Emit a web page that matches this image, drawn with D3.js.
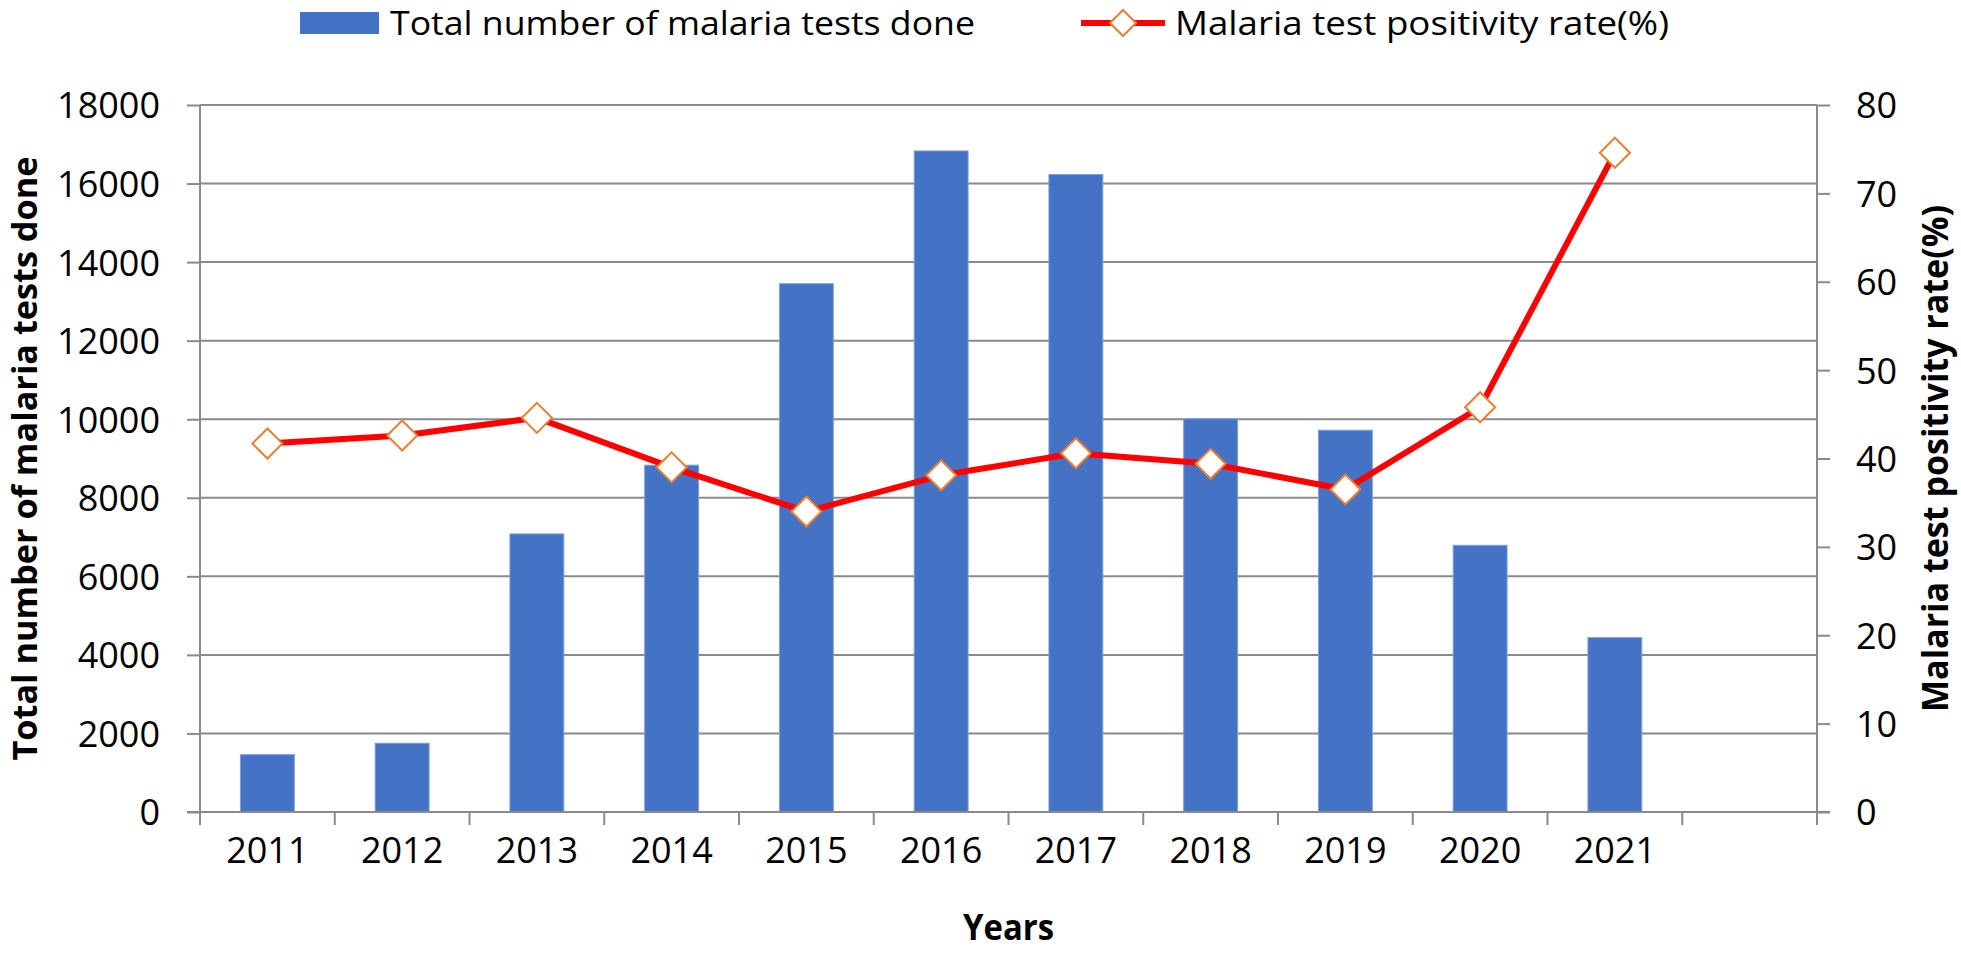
<!DOCTYPE html>
<html>
<head>
<meta charset="utf-8">
<script src="https://cdn.jsdelivr.net/npm/d3@7"></script>
<style>
  html, body { margin: 0; padding: 0; background: #fff; }
  svg { display: block; }
  text { font-family: "Open Sans", "Liberation Sans", sans-serif; fill: #000; }
</style>
</head>
<body>
<svg id="chart" width="1961" height="953"></svg>
<script>
// ---- data ----
const categories = ["2011","2012","2013","2014","2015","2016","2017","2018","2019","2020","2021",""];
const years = ["2011","2012","2013","2014","2015","2016","2017","2018","2019","2020","2021"];
const testsDone = [1460, 1750, 7080, 8830, 13450, 16830, 16230, 10010, 9720, 6790, 4440];
const positivityRate = [41.7, 42.6, 44.6, 39.0, 34.0, 38.1, 40.6, 39.4, 36.5, 45.8, 74.6];
const leftTicks = [0, 2000, 4000, 6000, 8000, 10000, 12000, 14000, 16000, 18000];
const rightTicks = [0, 10, 20, 30, 40, 50, 60, 70, 80];
const seriesNames = ["Total number of malaria tests done", "Malaria test positivity rate(%)"];
const axisTitles = { left: "Total number of malaria tests done", right: "Malaria test positivity rate(%)", bottom: "Years" };

// ---- layout ----
const plot = { left: 200, right: 1817, top: 105, bottom: 812 };
const gridColor = "#8a8a8a";
const barColor = "#4472C4";
const lineColor = "#FF0000";
const markerStroke = "#ED7D31";

const svg = d3.select("#chart");

const x = d3.scaleBand().domain(categories).range([plot.left, plot.right])
  .paddingInner(0.6).paddingOuter(0.3);
const step = x.step();
const yL = d3.scaleLinear().domain([0, 18000]).range([plot.bottom, plot.top]);
const yR = d3.scaleLinear().domain([0, 80]).range([plot.bottom, plot.top]);

// gridlines
svg.append("g").selectAll("line").data(leftTicks.filter(d => d > 0)).join("line")
  .attr("x1", plot.left).attr("x2", plot.right)
  .attr("y1", d => yL(d)).attr("y2", d => yL(d))
  .attr("stroke", gridColor).attr("stroke-width", 2);

// bars
svg.append("g").selectAll("rect").data(years.map((c, i) => ({c, v: testsDone[i]}))).join("rect")
  .attr("x", d => x(d.c)).attr("width", x.bandwidth())
  .attr("y", d => yL(d.v)).attr("height", d => yL(0) - yL(d.v))
  .attr("fill", barColor).attr("stroke", "#7f9fdc").attr("stroke-width", 1);

// left axis
const gL = svg.append("g").attr("transform", `translate(${plot.left},0)`)
  .call(d3.axisLeft(yL).tickValues(leftTicks).tickSize(13).tickPadding(27).tickFormat(d3.format("d")));
// right axis
const gR = svg.append("g").attr("transform", `translate(${plot.right},0)`)
  .call(d3.axisRight(yR).tickValues(rightTicks).tickSize(13).tickPadding(26).tickFormat(d3.format("d")));
[gL, gR].forEach(g => {
  g.select(".domain").attr("stroke", gridColor).attr("stroke-width", 2);
  g.selectAll(".tick line").attr("stroke", gridColor).attr("stroke-width", 2);
  g.selectAll(".tick text").attr("font-size", 36).attr("font-family", "Open Sans").attr("fill", "#000").attr("dy", "0.36em");
});
gL.select(".domain").attr("d", `M0,${plot.top}V${plot.bottom + 13}`);
gR.select(".domain").attr("d", `M0,${plot.top}V${plot.bottom + 13}`);

// bottom axis: labels via d3 axis, boundary ticks from scale step
const gB = svg.append("g").attr("transform", `translate(0,${plot.bottom})`)
  .call(d3.axisBottom(x).tickSize(0).tickPadding(40));
gB.select(".domain").remove();
gB.selectAll(".tick text").attr("font-size", 36).attr("font-family", "Open Sans").attr("fill", "#000").attr("dy", "0.3em");
svg.append("line").attr("x1", plot.left - 13).attr("x2", plot.right + 13)
  .attr("y1", plot.bottom).attr("y2", plot.bottom).attr("stroke", gridColor).attr("stroke-width", 2);
svg.append("g").selectAll("line").data(d3.range(categories.length + 1)).join("line")
  .attr("x1", i => x.range()[0] + i * step).attr("x2", i => x.range()[0] + i * step)
  .attr("y1", plot.bottom).attr("y2", plot.bottom + 13)
  .attr("stroke", gridColor).attr("stroke-width", 2);

// line series
const pts = years.map((c, i) => [x(c) + x.bandwidth() / 2, yR(positivityRate[i])]);
svg.append("path").attr("d", d3.line()(pts)).attr("fill", "none")
  .attr("stroke", lineColor).attr("stroke-width", 6).attr("stroke-linejoin", "round");
const diamond = (cx, cy, r) => `M${cx},${cy - r}L${cx + r},${cy}L${cx},${cy + r}L${cx - r},${cy}Z`;
svg.append("g").selectAll("path").data(pts).join("path")
  .attr("d", d => diamond(d[0], d[1], 15))
  .attr("fill", "#fff").attr("stroke", markerStroke).attr("stroke-width", 2);

// axis titles
svg.append("text").attr("transform", `translate(37,${(plot.top + plot.bottom) / 2}) rotate(-90)`)
  .attr("text-anchor", "middle").attr("font-size", 34).attr("font-weight", "bold")
  .attr("textLength", 604).attr("lengthAdjust", "spacingAndGlyphs").text(axisTitles.left);
svg.append("text").attr("transform", `translate(1948,${(plot.top + plot.bottom) / 2}) rotate(-90)`)
  .attr("text-anchor", "middle").attr("font-size", 36).attr("font-weight", "bold")
  .attr("textLength", 507).attr("lengthAdjust", "spacingAndGlyphs").text(axisTitles.right);
svg.append("text").attr("x", (plot.left + plot.right) / 2).attr("y", 940)
  .attr("text-anchor", "middle").attr("font-size", 36).attr("font-weight", "bold")
  .attr("textLength", 91).attr("lengthAdjust", "spacingAndGlyphs").text(axisTitles.bottom);

// legend
const lg = svg.append("g");
lg.append("rect").attr("x", 300).attr("y", 12).attr("width", 79).attr("height", 22).attr("fill", barColor);
lg.append("text").attr("x", 390).attr("y", 35).attr("font-size", 32)
  .attr("textLength", 585).attr("lengthAdjust", "spacingAndGlyphs").text(seriesNames[0]);
lg.append("line").attr("x1", 1081).attr("x2", 1165).attr("y1", 23).attr("y2", 23)
  .attr("stroke", lineColor).attr("stroke-width", 6);
lg.append("path").attr("d", diamond(1123, 23, 13)).attr("fill", "#fff").attr("stroke", markerStroke).attr("stroke-width", 2);
lg.append("text").attr("x", 1175).attr("y", 35).attr("font-size", 32)
  .attr("textLength", 494).attr("lengthAdjust", "spacingAndGlyphs").text(seriesNames[1]);
</script>
</body>
</html>
